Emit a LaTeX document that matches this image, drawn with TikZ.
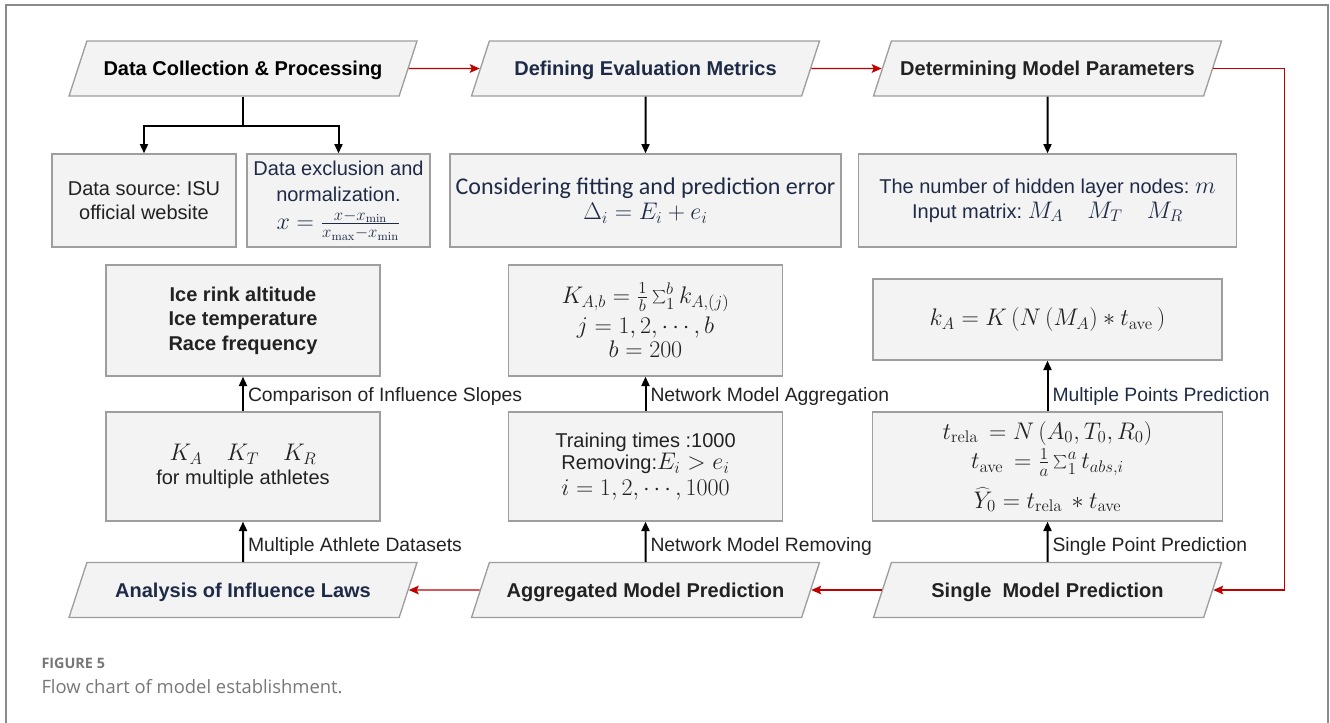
\RequirePackage{fix-cm}
\documentclass[tikz,border=0pt]{standalone}
\usepackage[no-math]{fontspec}
\setmainfont{Liberation Sans}
\newfontfamily\calfont{Carlito}
\newfontfamily\capfont{Open Sans}
\usetikzlibrary{arrows.meta,shapes.geometric,positioning}
\definecolor{boxfill}{HTML}{F3F3F3}
\definecolor{boxline}{HTML}{9E9E9E}
\definecolor{framegray}{HTML}{8A8A8A}
\definecolor{ink}{HTML}{222222}
\definecolor{navy}{HTML}{1F2B46}
\definecolor{flowred}{HTML}{C00000}
\definecolor{capgray}{HTML}{777777}
\newcommand\mathsz{\fontsize{18}{20}\selectfont}
\tikzset{every picture/.style={line width=0.75pt}}
\frenchspacing

\begin{document}
\begin{tikzpicture}[x=0.75pt,y=-0.75pt,
    box/.style={draw=boxline, fill=boxfill, line width=1pt, align=center, inner sep=2pt,
      text=ink, font=\fontsize{15}{18}\selectfont},
    para/.style={trapezium, trapezium left angle=72, trapezium right angle=108,
      trapezium stretches body, draw=boxline, fill=boxfill, line width=1pt,
      minimum width=261pt, text height=13pt, text depth=2.5pt, inner xsep=0pt, inner ysep=12.875pt,
      font=\bfseries\fontsize{15}{18}\selectfont},
    arr/.style={-{Triangle[length=7pt,width=6pt]}, line width=1.5pt},
    redarr/.style={-{Stealth[length=7.5pt,width=6.5pt,inset=1.5pt]}, draw=flowred, line width=1.1pt},
    lab/.style={right, inner sep=3pt, text=ink, font=\fontsize{14.5}{17}\selectfont}]

    \useasboundingbox (0,0) rectangle (1330,722);

    % 外框
    \draw[draw=framegray, line width=1pt] (6,740) -- (6,5) -- (1328,5) -- (1328,740);

    % 第一行
    \node[para, text=black] (collect) at (243,68.5) {Data Collection \& Processing};
    \node[para, text=navy] (metric) at (645.5,68.5) {Defining Evaluation Metrics};
    \node[para, text=ink] (param) at (1047.5,68.5) {Determining Model Parameters};

    \node[box, minimum width=138pt, minimum height=69.75pt] (source) at (144,200.5)
        {Data source: ISU\\official website};
    \node[box, text=navy, font=\fontsize{15}{19.5}\selectfont,
        minimum width=137.25pt, minimum height=69.75pt] (norm) at (338.5,200.5)
        {Data exclusion and\\normalization.\\[2pt]{\mathsz$x=\frac{x-x_{\min}}{x_{\max}-x_{\min}}$}};
    \node[box, text=navy, font=\calfont\fontsize{18}{19}\selectfont,
        minimum width=293.25pt, minimum height=69.75pt] (errdef) at (645.5,200.5)
        {Considering fitting and prediction error\\{\mathsz$\Delta_i=E_i+e_i$}};
    \node[box, text=navy, minimum width=283.5pt, minimum height=69.75pt] (hidden) at (1047.5,200.5)
        {The number of hidden layer nodes: {\mathsz$m$}\\[1pt]
         Input matrix: {\mathsz$M_A\quad M_T\quad M_R$}};

    % 中间两行
    \node[box, font=\bfseries\fontsize{15}{18.5}\selectfont,
        minimum width=205.5pt, minimum height=83.25pt] (factors) at (243,320.5)
        {Ice rink altitude\\Ice temperature\\Race frequency};
    \node[box, font=\fontsize{15}{18}\selectfont,
        minimum width=205.5pt, minimum height=83.25pt] (aggK) at (645.5,320.5)
        {{\mathsz$K_{A,b}=\frac{1}{b}\sum_1^b k_{A,(j)}$}\\[3pt]{\mathsz$j=1,2,\cdots,b$}\\{\mathsz$b=200$}};
    \node[box, minimum width=261.75pt, minimum height=60.75pt] (multiK) at (1047.5,319.5)
        {\mathsz$k_A=K\left(N\left(M_A\right)*t_{\mathrm{ave}}\,\right)$};

    \node[box, minimum width=205.5pt, minimum height=81.75pt] (slopeK) at (243,466.5)
        {{\mathsz$K_A\quad K_T\quad K_R$}\\for multiple athletes};
    \node[box, font=\fontsize{15}{17}\selectfont,
        minimum width=205.5pt, minimum height=81.75pt] (removeK) at (645.5,466.5)
        {Training times :1000\\Removing:{\mathsz$E_i>e_i$}\\[2.5pt]{\mathsz$i=1,2,\cdots,1000$}};
    \node[box, font=\fontsize{15}{21}\selectfont,
        minimum width=262.5pt, minimum height=81.75pt] (singleK) at (1047.5,466.5)
        {{\mathsz$t_{\mathrm{rela}}\,=N\left(A_0,T_0,R_0\right)$}\\[1pt]
         {\mathsz$t_{\mathrm{ave}}\,=\frac{1}{a}\sum_1^a t_{abs,i}$}\\[7pt]
         {\mathsz$\widehat{Y}_0=t_{\mathrm{rela}}\,*t_{\mathrm{ave}}$}};

    % 最后一行
    \node[para, text=navy] (analysis) at (243,590) {Analysis of Influence Laws};
    \node[para, text=ink] (aggpred) at (645.5,590) {Aggregated Model Prediction};
    \node[para, text=ink] (singlepred) at (1047.5,590) {Single~ Model Prediction};

    % 黑色箭头
    \draw[arr] (collect.south) -- ++(0,29) coordinate (split) -| (source.north);
    \draw[arr] (split) -| (norm.north);
    \draw[arr] (metric) -- (errdef);
    \draw[arr] (param) -- (hidden);

    \draw[arr] (slopeK) -- (factors) node[lab, pos=0.42] {Comparison of Influence Slopes};
    \draw[arr] (removeK) -- (aggK) node[lab, pos=0.42] {Network Model Aggregation};
    \draw[arr] (singleK) -- (multiK) node[lab, pos=0.3, text=navy] {Multiple Points Prediction};

    \draw[arr] (analysis) -- (slopeK) node[lab, pos=0.38] {Multiple Athlete Datasets};
    \draw[arr] (aggpred) -- (removeK) node[lab, pos=0.38] {Network Model Removing};
    \draw[arr] (singlepred) -- (singleK) node[lab, pos=0.38] {Single Point Prediction};

    % 红色主流程
    \draw[redarr] (collect) -- (metric);
    \draw[redarr] (metric) -- (param);
    \draw[redarr] (param.east) -- ++(71,0) |- (singlepred.east);
    \draw[redarr] (singlepred) -- (aggpred);
    \draw[redarr] (aggpred) -- (analysis);

    % 图注
    \node[anchor=west, inner sep=0pt, text=capgray, font=\capfont\bfseries\fontsize{10.8}{13}\selectfont]
        (fignum) at (41,663) {FIGURE 5};
    \node[anchor=west, inner sep=0pt, text=capgray, font=\capfont\fontsize{13.8}{16}\selectfont]
        (figtext) at (41,687) {Flow chart of model establishment.};
\end{tikzpicture}
\end{document}
